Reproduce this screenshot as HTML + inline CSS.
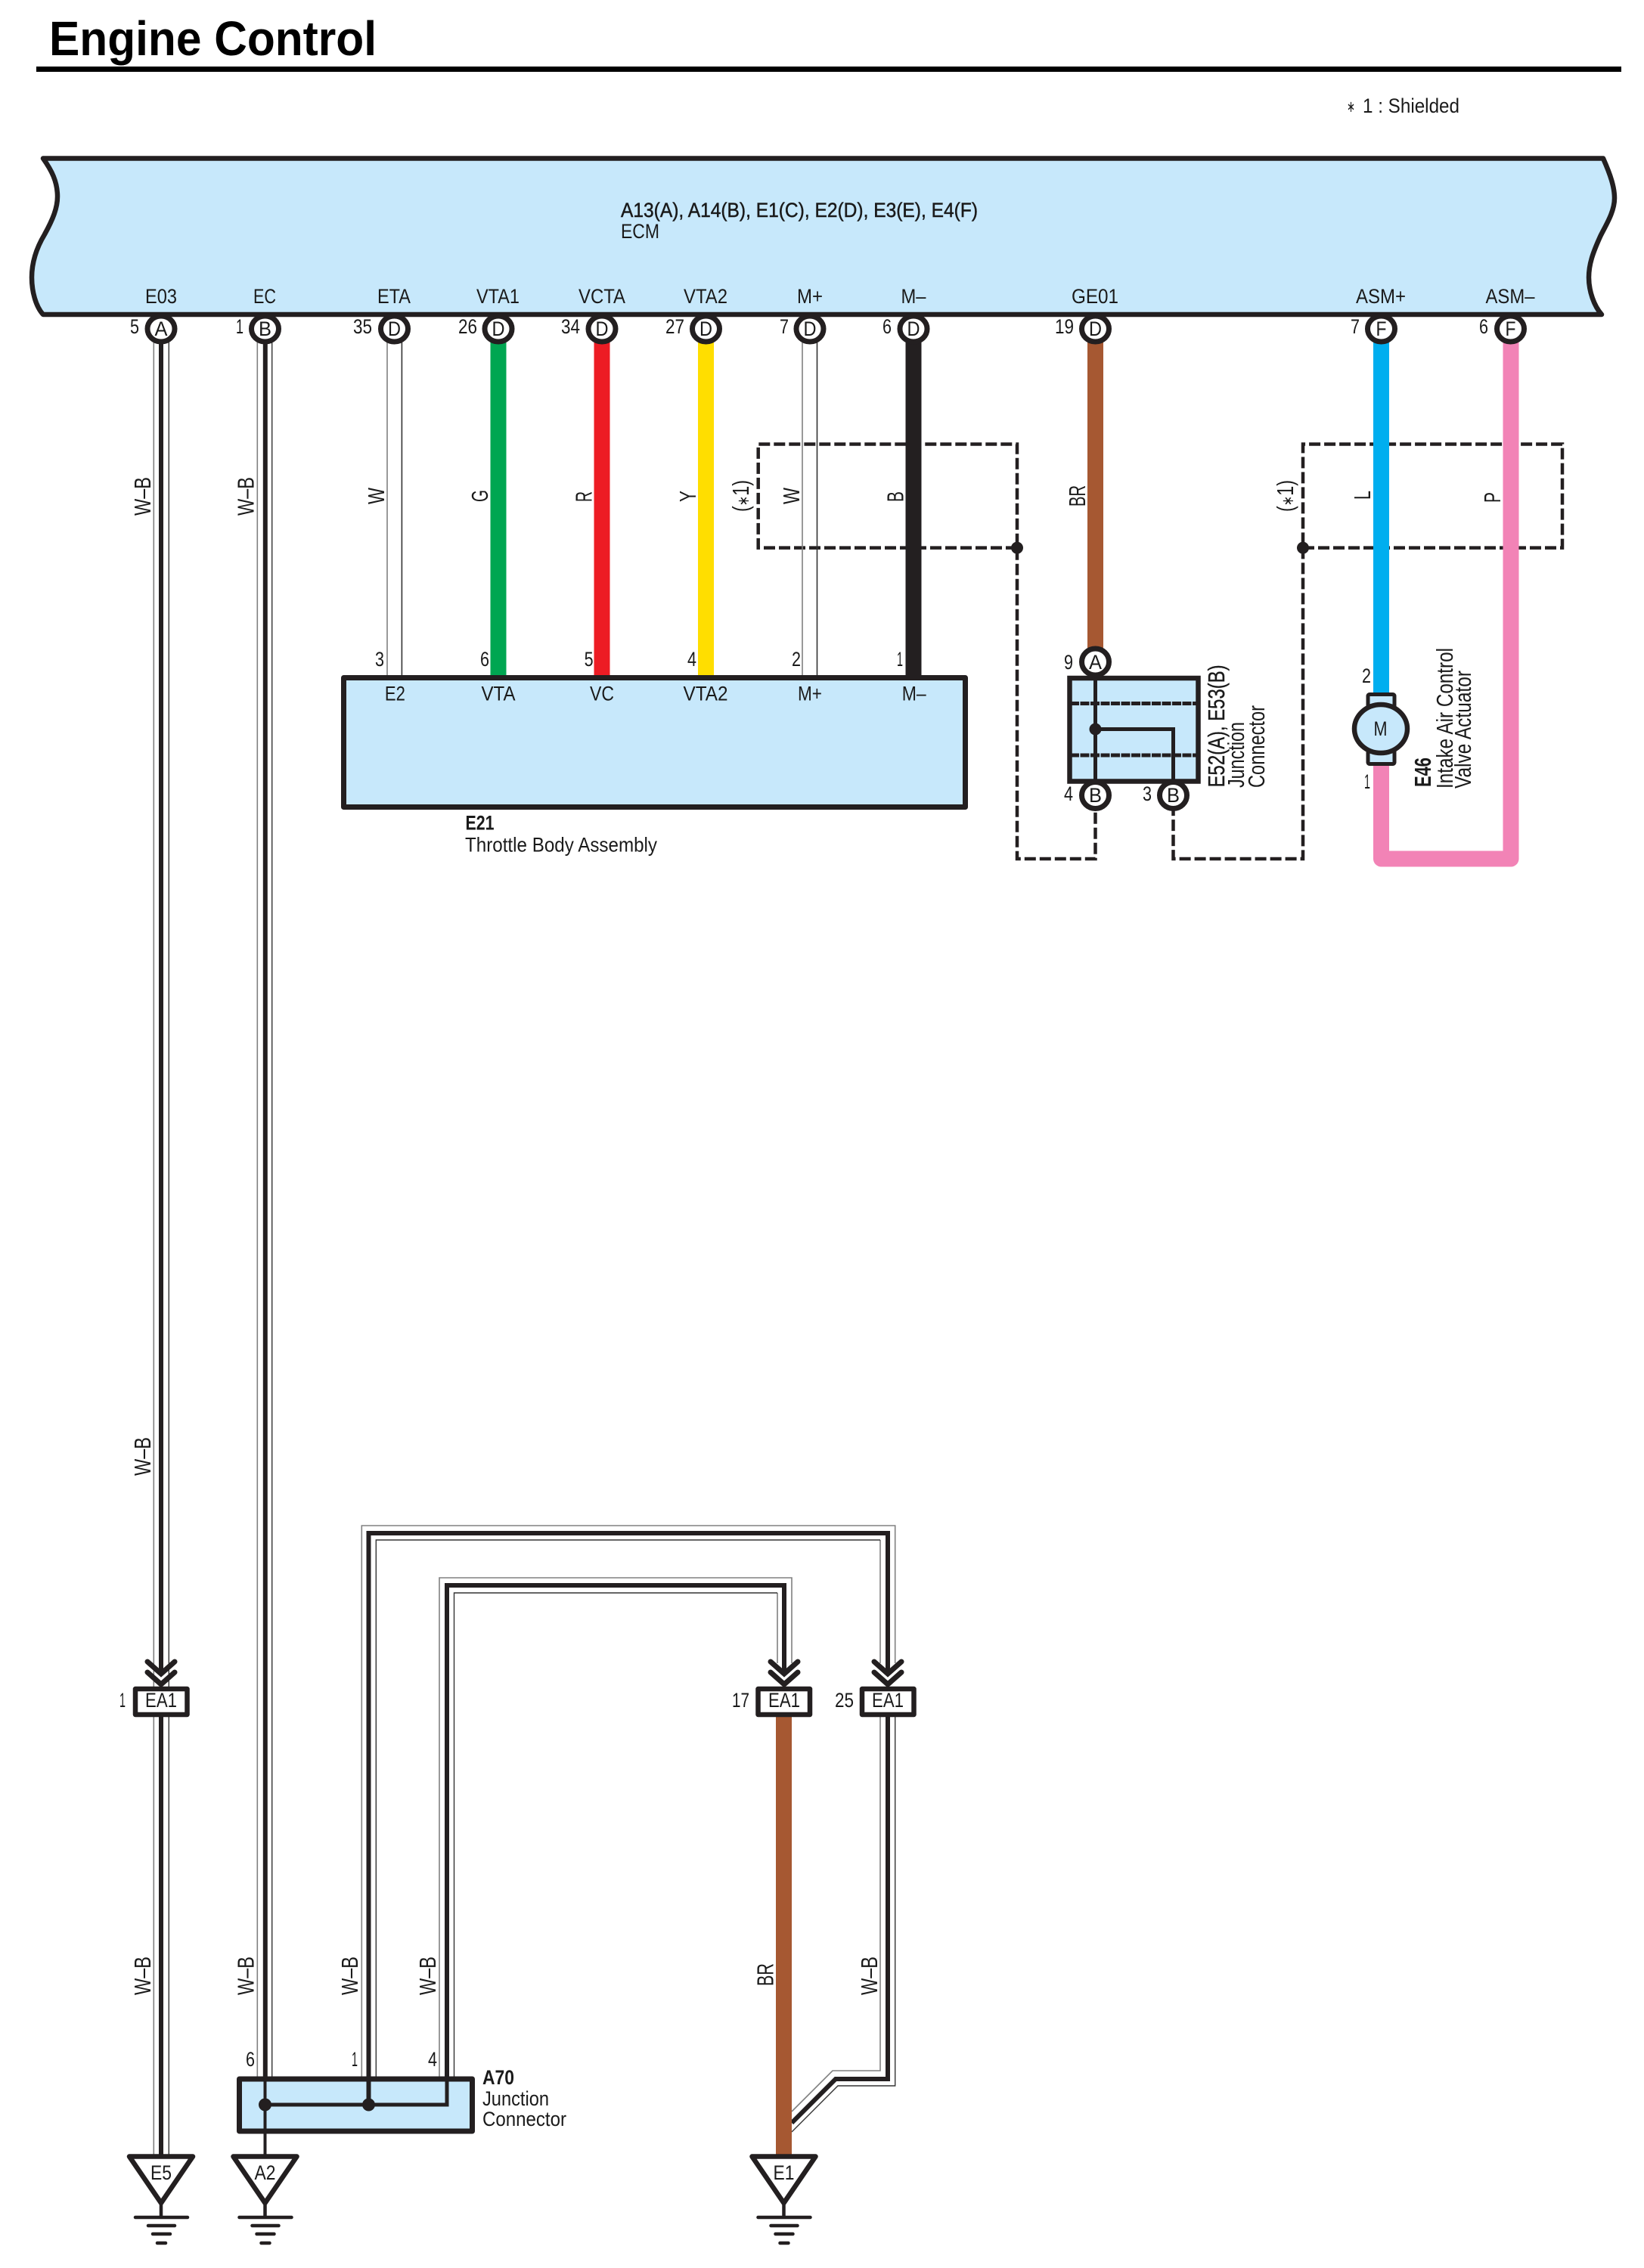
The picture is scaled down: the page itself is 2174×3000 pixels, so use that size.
<!DOCTYPE html>
<html><head><meta charset="utf-8"><title>Engine Control</title>
<style>
html,body{margin:0;padding:0;background:#fff}
svg{display:block}
text{font-family:"Liberation Sans",sans-serif;font-size:27px;fill:#1a1a1a}
.b{font-weight:bold}
.r{font-size:30.5px}
.c{text-anchor:middle}
.e{text-anchor:end}
.s{font-size:21px}
</style></head><body>
<svg xmlns="http://www.w3.org/2000/svg" width="2174" height="3000" viewBox="0 0 2174 3000">
<rect width="2174" height="3000" fill="#fff"/>
<text x="65" y="73" class="b" style="font-size:64px;fill:#000" textLength="433" lengthAdjust="spacingAndGlyphs">Engine Control</text>
<rect x="48" y="88" width="2096" height="7" fill="#000"/>
<text x="1781" y="148" class="s" textLength="11" lengthAdjust="spacingAndGlyphs">∗</text>
<text x="1802" y="149" textLength="128" lengthAdjust="spacingAndGlyphs">1 : Shielded</text>

<!-- ECM -->
<path d="M57 209.5 L2120 209.5 C2130 232 2135 248 2135 262 C2135 280 2124 297 2116.5 312 C2106 335 2101 350 2101 367 C2101 385 2108 405 2118 416 L57 416 C47 405 42 385 42 367 C42 345 50 325 59 310 C70 290 76 275 76 260 C76 240 68 225 57 209.5 Z" fill="#c7e8fb" stroke="#231f20" stroke-width="6.5" stroke-linejoin="round"/>
<text x="821" y="287" stroke="#1a1a1a" stroke-width=".5" textLength="472" lengthAdjust="spacingAndGlyphs">A13(A), A14(B), E1(C), E2(D), E3(E), E4(F)</text>
<text x="821" y="315" textLength="51" lengthAdjust="spacingAndGlyphs">ECM</text>
<g class="c">
<text x="213" y="401" class="c" textLength="42" lengthAdjust="spacingAndGlyphs">E03</text>
<text x="350" y="401" class="c" textLength="30" lengthAdjust="spacingAndGlyphs">EC</text>
<text x="521" y="401" class="c" textLength="44" lengthAdjust="spacingAndGlyphs">ETA</text>
<text x="658.5" y="401" class="c" textLength="57" lengthAdjust="spacingAndGlyphs">VTA1</text>
<text x="796" y="401" class="c" textLength="62" lengthAdjust="spacingAndGlyphs">VCTA</text>
<text x="933" y="401" class="c" textLength="58" lengthAdjust="spacingAndGlyphs">VTA2</text>
<text x="1071" y="401" class="c" textLength="34" lengthAdjust="spacingAndGlyphs">M+</text>
<text x="1208" y="401" class="c" textLength="33" lengthAdjust="spacingAndGlyphs">M–</text>
<text x="1448" y="401" class="c" textLength="62" lengthAdjust="spacingAndGlyphs">GE01</text>
<text x="1826" y="401" class="c" textLength="66" lengthAdjust="spacingAndGlyphs">ASM+</text>
<text x="1997" y="401" class="c" textLength="65" lengthAdjust="spacingAndGlyphs">ASM–</text>
</g>

<!-- shield dashes -->
<g fill="none" stroke="#231f20" stroke-width="4.5" stroke-dasharray="15 5">
<path d="M1345 724.6 L1002.7 724.6 L1002.7 587.5 L1345 587.5 L1345 724.6 L1345 1136 L1448.5 1136 L1448.5 1070"/>
<path d="M1723 724.6 L2066 724.6 L2066 587.5 L1723 587.5 L1723 724.6 L1723 1136 L1551.5 1136 L1551.5 1070"/>
</g>
<circle cx="1345" cy="724.6" r="8" fill="#231f20"/>
<circle cx="1723" cy="724.6" r="8" fill="#231f20"/>

<!-- W-B triple wires -->
<g fill="none" stroke-width="6" stroke="#231f20">
<path d="M213 450 V2215 M213 2265 V2852"/>
<path d="M350.8 450 V2750"/>
<path d="M487.5 2750 V2028 H1174 V2215"/>
<path d="M591 2750 V2097 H1037 V2215"/>
<path d="M1174 2265 V2750 H1105 L1047 2808"/>
</g>
<g fill="none" stroke-width="1.6" stroke="#808080">
<path d="M203.3 450 V2852 M340.3 450 V2750 M478.3 2750 V2018 H1183.7 V2200 M581 2750 V2087 H1047 V2200"/>
<path d="M1164 2200 V2037 M1028 2200 V2107 M1164 2270 V2739 H1101 L1047 2793"/>
</g>
<g fill="none" stroke-width="1.4" stroke="#333">
<path d="M223.3 450 V2852 M359.7 450 V2750 M497.3 2750 V2037 H1164 M600.5 2750 V2107 H1028"/>
<path d="M1183.7 2270 V2759 H1108 L1047 2820"/>
</g>
<!-- W white wires -->
<g fill="none" stroke-width="1.6">
<path d="M512 450 V895 M1061 450 V895" stroke="#808080"/>
<path d="M531.4 450 V895 M1080.5 450 V895" stroke="#333"/>
</g>
<!-- coloured wires -->
<g fill="none" stroke-width="21">
<path d="M659 450 V895" stroke="#00a651"/>
<path d="M796 450 V895" stroke="#ed1c24"/>
<path d="M933.5 450 V895" stroke="#ffde00"/>
<path d="M1208 450 V895" stroke="#231f20"/>
<path d="M1448.5 450 V860" stroke="#a65832"/>
<path d="M1826.5 450 V920" stroke="#00aeef"/>
<path d="M1826.5 1010 V1136 H1998 V450" stroke="#f283b6" stroke-linejoin="round"/>
<path d="M1036.5 2268 V2852" stroke="#a65832"/>
</g>

<!-- ECM pins -->
<g fill="#fff" stroke="#231f20" stroke-width="7">
<ellipse cx="213" cy="435" rx="18" ry="17"/><ellipse cx="350.5" cy="435" rx="18" ry="17"/><ellipse cx="521.5" cy="435" rx="18" ry="17"/><ellipse cx="659" cy="435" rx="18" ry="17"/><ellipse cx="796" cy="435" rx="18" ry="17"/><ellipse cx="933.5" cy="435" rx="18" ry="17"/><ellipse cx="1071" cy="435" rx="18" ry="17"/><ellipse cx="1208" cy="435" rx="18" ry="17"/><ellipse cx="1448.5" cy="435" rx="18" ry="17"/><ellipse cx="1826.5" cy="435" rx="18" ry="17"/><ellipse cx="1997.5" cy="435" rx="18" ry="17"/>
</g>
<text x="213" y="444" class="c" textLength="17" lengthAdjust="spacingAndGlyphs">A</text>
<text x="350.5" y="444" class="c" textLength="17" lengthAdjust="spacingAndGlyphs">B</text>
<text x="521.5" y="444" class="c" textLength="17" lengthAdjust="spacingAndGlyphs">D</text>
<text x="659" y="444" class="c" textLength="17" lengthAdjust="spacingAndGlyphs">D</text>
<text x="796" y="444" class="c" textLength="17" lengthAdjust="spacingAndGlyphs">D</text>
<text x="933.5" y="444" class="c" textLength="17" lengthAdjust="spacingAndGlyphs">D</text>
<text x="1071" y="444" class="c" textLength="17" lengthAdjust="spacingAndGlyphs">D</text>
<text x="1208" y="444" class="c" textLength="17" lengthAdjust="spacingAndGlyphs">D</text>
<text x="1448.5" y="444" class="c" textLength="17" lengthAdjust="spacingAndGlyphs">D</text>
<text x="1826.5" y="444" class="c" textLength="14" lengthAdjust="spacingAndGlyphs">F</text>
<text x="1997.5" y="444" class="c" textLength="14" lengthAdjust="spacingAndGlyphs">F</text>
<text x="184" y="441" class="e" textLength="12" lengthAdjust="spacingAndGlyphs">5</text>
<text x="322" y="441" class="e" textLength="10" lengthAdjust="spacingAndGlyphs">1</text>
<text x="492" y="441" class="e" textLength="25" lengthAdjust="spacingAndGlyphs">35</text>
<text x="631" y="441" class="e" textLength="25" lengthAdjust="spacingAndGlyphs">26</text>
<text x="767" y="441" class="e" textLength="25" lengthAdjust="spacingAndGlyphs">34</text>
<text x="905" y="441" class="e" textLength="25" lengthAdjust="spacingAndGlyphs">27</text>
<text x="1043" y="441" class="e" textLength="12" lengthAdjust="spacingAndGlyphs">7</text>
<text x="1179" y="441" class="e" textLength="12" lengthAdjust="spacingAndGlyphs">6</text>
<text x="1420" y="441" class="e" textLength="25" lengthAdjust="spacingAndGlyphs">19</text>
<text x="1798" y="441" class="e" textLength="12" lengthAdjust="spacingAndGlyphs">7</text>
<text x="1968" y="441" class="e" textLength="12" lengthAdjust="spacingAndGlyphs">6</text>

<!-- rotated wire labels -->
<g>
<text transform="translate(199,682) rotate(-90)" class="r" textLength="51" lengthAdjust="spacingAndGlyphs">W–B</text>
<text transform="translate(335.3,682) rotate(-90)" class="r" textLength="51" lengthAdjust="spacingAndGlyphs">W–B</text>
<text transform="translate(199,1952) rotate(-90)" class="r" textLength="51" lengthAdjust="spacingAndGlyphs">W–B</text>
<text transform="translate(199,2639) rotate(-90)" class="r" textLength="51" lengthAdjust="spacingAndGlyphs">W–B</text>
<text transform="translate(335.3,2639) rotate(-90)" class="r" textLength="51" lengthAdjust="spacingAndGlyphs">W–B</text>
<text transform="translate(473,2639) rotate(-90)" class="r" textLength="51" lengthAdjust="spacingAndGlyphs">W–B</text>
<text transform="translate(576,2639) rotate(-90)" class="r" textLength="51" lengthAdjust="spacingAndGlyphs">W–B</text>
<text transform="translate(1160,2639) rotate(-90)" class="r" textLength="51" lengthAdjust="spacingAndGlyphs">W–B</text>
<text transform="translate(1022.3,2627) rotate(-90)" class="r" textLength="30" lengthAdjust="spacingAndGlyphs">BR</text>
<text transform="translate(508,667) rotate(-90)" class="r" textLength="22" lengthAdjust="spacingAndGlyphs">W</text>
<text transform="translate(645,664) rotate(-90)" class="r" textLength="16" lengthAdjust="spacingAndGlyphs">G</text>
<text transform="translate(782.5,664) rotate(-90)" class="r" textLength="14" lengthAdjust="spacingAndGlyphs">R</text>
<text transform="translate(920,664) rotate(-90)" class="r" textLength="15" lengthAdjust="spacingAndGlyphs">Y</text>
<text transform="translate(990,677) rotate(-90)" class="r" textLength="42" lengthAdjust="spacingAndGlyphs">(<tspan class="s">∗</tspan>1)</text>
<text transform="translate(1057,667) rotate(-90)" class="r" textLength="22" lengthAdjust="spacingAndGlyphs">W</text>
<text transform="translate(1194.5,664) rotate(-90)" class="r" textLength="14" lengthAdjust="spacingAndGlyphs">B</text>
<text transform="translate(1435,670) rotate(-90)" class="r" textLength="28" lengthAdjust="spacingAndGlyphs">BR</text>
<text transform="translate(1710,677) rotate(-90)" class="r" textLength="42" lengthAdjust="spacingAndGlyphs">(<tspan class="s">∗</tspan>1)</text>
<text transform="translate(1812,661) rotate(-90)" class="r" textLength="12" lengthAdjust="spacingAndGlyphs">L</text>
<text transform="translate(1984,665) rotate(-90)" class="r" textLength="14" lengthAdjust="spacingAndGlyphs">P</text>
</g>

<!-- E21 -->
<rect x="454.5" y="896.5" width="822" height="171" fill="#c7e8fb" stroke="#231f20" stroke-width="7" stroke-linejoin="round"/>
<text x="522.4" y="926.6" class="c" textLength="27" lengthAdjust="spacingAndGlyphs">E2</text>
<text x="659" y="926.6" class="c" textLength="45" lengthAdjust="spacingAndGlyphs">VTA</text>
<text x="796" y="926.6" class="c" textLength="32" lengthAdjust="spacingAndGlyphs">VC</text>
<text x="933" y="926.6" class="c" textLength="59" lengthAdjust="spacingAndGlyphs">VTA2</text>
<text x="1071" y="926.6" class="c" textLength="32" lengthAdjust="spacingAndGlyphs">M+</text>
<text x="1208.7" y="926.6" class="c" textLength="32" lengthAdjust="spacingAndGlyphs">M–</text>
<text x="508" y="881" class="e" textLength="12" lengthAdjust="spacingAndGlyphs">3</text>
<text x="647" y="881" class="e" textLength="12" lengthAdjust="spacingAndGlyphs">6</text>
<text x="784.6" y="881" class="e" textLength="12" lengthAdjust="spacingAndGlyphs">5</text>
<text x="921" y="881" class="e" textLength="12" lengthAdjust="spacingAndGlyphs">4</text>
<text x="1059" y="881" class="e" textLength="12" lengthAdjust="spacingAndGlyphs">2</text>
<text x="1194" y="881" class="e" textLength="8" lengthAdjust="spacingAndGlyphs">1</text>
<text x="615.5" y="1097.7" class="b" textLength="38" lengthAdjust="spacingAndGlyphs">E21</text>
<text x="615" y="1126.4" textLength="254" lengthAdjust="spacingAndGlyphs">Throttle Body Assembly</text>

<!-- E52/E53 -->
<rect x="1414.5" y="897" width="170" height="136.5" fill="#c7e8fb" stroke="#231f20" stroke-width="6.5"/>
<g fill="none" stroke="#231f20" stroke-width="5">
<path d="M1415 930.5 H1584 M1415 999 H1584" stroke-dasharray="12 1.5"/>
<path d="M1448.5 895 V1036"/>
<path d="M1448.5 964.5 H1551.5 V1036"/>
</g>
<circle cx="1448.5" cy="964.5" r="8" fill="#231f20"/>
<g fill="#fff" stroke="#231f20" stroke-width="7">
<ellipse cx="1448.5" cy="875.5" rx="18" ry="17.5"/>
<ellipse cx="1448.5" cy="1052" rx="18" ry="17.5"/>
<ellipse cx="1551.5" cy="1052" rx="18" ry="17.5"/>
</g>
<text x="1448.5" y="885" class="c" textLength="17" lengthAdjust="spacingAndGlyphs">A</text>
<text x="1448.5" y="1061" class="c" textLength="17" lengthAdjust="spacingAndGlyphs">B</text>
<text x="1551.5" y="1061" class="c" textLength="17" lengthAdjust="spacingAndGlyphs">B</text>
<text x="1419" y="885" class="e" textLength="12" lengthAdjust="spacingAndGlyphs">9</text>
<text x="1419" y="1059" class="e" textLength="12" lengthAdjust="spacingAndGlyphs">4</text>
<text x="1523" y="1059" class="e" textLength="12" lengthAdjust="spacingAndGlyphs">3</text>
<text transform="translate(1619,1041.4) rotate(-90)" class="r" stroke="#1a1a1a" stroke-width=".4" textLength="162" lengthAdjust="spacingAndGlyphs">E52(A), E53(B)</text>
<text transform="translate(1645,1042) rotate(-90)" class="r" textLength="87" lengthAdjust="spacingAndGlyphs">Junction</text>
<text transform="translate(1672,1042) rotate(-90)" class="r" textLength="109" lengthAdjust="spacingAndGlyphs">Connector</text>

<!-- Motor E46 -->
<rect x="1809" y="918.5" width="35" height="92" rx="2" fill="#c7e8fb" stroke="#231f20" stroke-width="5"/>
<ellipse cx="1826" cy="964" rx="35" ry="32" fill="#c7e8fb" stroke="#231f20" stroke-width="6.5"/>
<text x="1825.5" y="973" class="c" textLength="18" lengthAdjust="spacingAndGlyphs">M</text>
<text x="1813" y="903" class="e" textLength="12" lengthAdjust="spacingAndGlyphs">2</text>
<text x="1812" y="1043" class="e" textLength="8" lengthAdjust="spacingAndGlyphs">1</text>
<text transform="translate(1892,1041) rotate(-90)" class="r b" textLength="39" lengthAdjust="spacingAndGlyphs">E46</text>
<text transform="translate(1921,1043) rotate(-90)" class="r" textLength="186" lengthAdjust="spacingAndGlyphs">Intake Air Control</text>
<text transform="translate(1945,1043) rotate(-90)" class="r" textLength="156" lengthAdjust="spacingAndGlyphs">Valve Actuator</text>

<!-- EA1 connectors -->
<g fill="none" stroke="#231f20" stroke-width="7" stroke-linecap="round" stroke-linejoin="miter">
<path d="M195 2198 L213 2214 L231 2198 M195 2212 L213 2228 L231 2212"/>
<path d="M1019 2198 L1037 2214 L1055 2198 M1019 2212 L1037 2228 L1055 2212"/>
<path d="M1156 2198 L1174 2214 L1192 2198 M1156 2212 L1174 2228 L1192 2212"/>
</g>
<g fill="#fff" stroke="#231f20" stroke-width="6.5" stroke-linejoin="round">
<rect x="179" y="2234" width="68.5" height="34"/>
<rect x="1002.5" y="2234" width="68.5" height="34"/>
<rect x="1140" y="2234" width="68.5" height="34"/>
</g>
<text x="213" y="2258" class="c" textLength="42" lengthAdjust="spacingAndGlyphs">EA1</text>
<text x="1037" y="2258" class="c" textLength="42" lengthAdjust="spacingAndGlyphs">EA1</text>
<text x="1174" y="2258" class="c" textLength="42" lengthAdjust="spacingAndGlyphs">EA1</text>
<text x="166" y="2258" class="e" textLength="8" lengthAdjust="spacingAndGlyphs">1</text>
<text x="991" y="2258" class="e" textLength="23" lengthAdjust="spacingAndGlyphs">17</text>
<text x="1129" y="2258" class="e" textLength="25" lengthAdjust="spacingAndGlyphs">25</text>

<!-- A70 -->
<rect x="316.5" y="2750" width="308" height="69" fill="#c7e8fb" stroke="#231f20" stroke-width="7" stroke-linejoin="round"/>
<g fill="none" stroke="#231f20">
<path d="M350.5 2750 V2852" stroke-width="4"/>
<path d="M350.5 2784 H591 V2748" stroke-width="5"/>
<path d="M487.5 2748 V2784" stroke-width="6"/>
</g>
<circle cx="350.5" cy="2784" r="8.5" fill="#231f20"/>
<circle cx="487.5" cy="2784" r="8.5" fill="#231f20"/>
<text x="337" y="2733" class="e" textLength="12" lengthAdjust="spacingAndGlyphs">6</text>
<text x="473" y="2733" class="e" textLength="8" lengthAdjust="spacingAndGlyphs">1</text>
<text x="578" y="2733" class="e" textLength="12" lengthAdjust="spacingAndGlyphs">4</text>
<text x="638" y="2757" class="b" textLength="42" lengthAdjust="spacingAndGlyphs">A70</text>
<text x="638" y="2785" textLength="88" lengthAdjust="spacingAndGlyphs">Junction</text>
<text x="638" y="2812" textLength="111" lengthAdjust="spacingAndGlyphs">Connector</text>

<!-- Grounds -->
<g fill="#fff" stroke="#231f20" stroke-width="6.5" stroke-linejoin="round">
<path d="M171 2852.5 H255 L213 2914 Z"/>
<path d="M308.5 2852.5 H392.5 L350.5 2914 Z"/>
<path d="M994.5 2852.5 H1078.5 L1036.5 2914 Z"/>
</g>
<g fill="none" stroke="#231f20" stroke-width="4.5" stroke-linecap="round">
<path d="M213 2914 V2933 M179 2933 H248 M196 2944 H231 M202 2955 H225 M208 2967 H219"/>
<path d="M350.5 2914 V2933 M316.5 2933 H385.5 M333.5 2944 H368.5 M339.5 2955 H362.5 M345.5 2967 H356.5"/>
<path d="M1036.5 2914 V2933 M1002.5 2933 H1071.5 M1019.5 2944 H1054.5 M1025.5 2955 H1048.5 M1031.5 2967 H1042.5"/>
</g>
<text x="213" y="2883" class="c" textLength="28" lengthAdjust="spacingAndGlyphs">E5</text>
<text x="350.5" y="2883" class="c" textLength="28" lengthAdjust="spacingAndGlyphs">A2</text>
<text x="1036.5" y="2883" class="c" textLength="28" lengthAdjust="spacingAndGlyphs">E1</text>
</svg>
</body></html>
